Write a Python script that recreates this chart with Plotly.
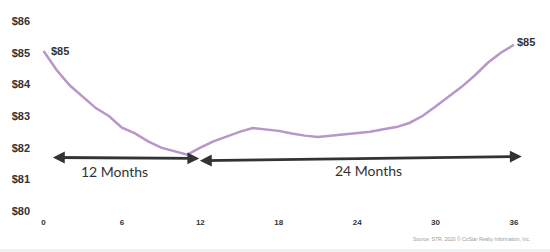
import plotly.graph_objects as go

# Data
months = list(range(0, 37))
adr = [85.05, 84.45, 83.97, 83.60, 83.25, 83.00, 82.63, 82.45, 82.20, 82.00,
       81.88, 81.78, 82.00, 82.20, 82.35, 82.50, 82.62, 82.58, 82.53, 82.45,
       82.38, 82.34, 82.38, 82.42, 82.45, 82.50, 82.58, 82.65, 82.78, 83.00,
       83.30, 83.60, 83.92, 84.28, 84.68, 85.00, 85.25]
x_ticks = [0, 6, 12, 18, 24, 30, 36]
y_ticks = [80, 81, 82, 83, 84, 85, 86]
y_tick_labels = ["$80", "$81", "$82", "$83", "$84", "$85", "$86"]
start_label = "$85"
end_label = "$85"
periods = ["12 Months", "24 Months"]
period_start = [0.6, 11.85]
period_end = [11.92, 36.6]
period_y_start = [81.69, 81.59]
period_y_end = [81.66, 81.72]
period_text_x = [5.4, 24.9]
period_text_y = [81.25, 81.28]
source = "Source: STR. 2020 © CoStar Realty Information, Inc."

W, H = 550, 252
L, T, B = 33, 21, 41
R = 23

fig = go.Figure()
fig.add_trace(go.Scatter(
    x=months, y=adr, mode="lines",
    line=dict(color="#B896CA", width=2.5, shape="linear"),
    hoverinfo="skip", showlegend=False,
))

ann = []
ann.append(dict(x=months[0], y=adr[0], text=start_label, showarrow=False,
                xanchor="left", yanchor="middle", xshift=5, yshift=0,
                font=dict(family="Arial, Liberation Sans", size=11, color="#333333", weight="bold")))
ann.append(dict(x=months[-1], y=adr[-1], text=end_label, showarrow=False,
                xanchor="left", yanchor="middle", xshift=1, yshift=3,
                font=dict(family="Arial, Liberation Sans", size=11, color="#333333", weight="bold")))
for i in range(len(periods)):
    ann.append(dict(x=period_end[i], y=period_y_end[i], ax=period_start[i], ay=period_y_start[i],
                    xref="x", yref="y", axref="x", ayref="y", text="",
                    showarrow=True, arrowhead=2, arrowside="end+start", arrowsize=0.85,
                    arrowwidth=2.8, arrowcolor="#333333", standoff=0, startstandoff=0))
    ann.append(dict(x=period_text_x[i], y=period_text_y[i], text=periods[i], showarrow=False,
                    xanchor="center", yanchor="middle",
                    font=dict(family="Lato", size=14, color="#333333")))
ann.append(dict(x=1.01, y=-0.147, xref="paper", yref="paper", text=source, showarrow=False,
                xanchor="right", yanchor="middle",
                font=dict(family="Arial, Liberation Sans", size=5, color="#9a9a9a")))

fig.update_layout(
    width=W, height=H,
    margin=dict(l=L, r=R, t=T, b=B, pad=0),
    paper_bgcolor="white", plot_bgcolor="white",
    annotations=ann,
    shapes=[dict(type="rect", xref="paper", yref="paper",
                 x0=-0.1, x1=1.1, y0=-0.3, y1=(-(249 - (H - B)) / (H - T - B)),
                 fillcolor="#eef0f2", line=dict(width=0), layer="below")],
    xaxis=dict(range=[-0.5, 37], tickvals=x_ticks, ticktext=[str(v) for v in x_ticks],
               showgrid=False, zeroline=False, showline=False, ticks="",
               tickfont=dict(family="Arial, Liberation Sans", size=8, color="#333333", weight="bold"),
               ticklabelstandoff=5),
    yaxis=dict(range=[80, 86], tickvals=y_ticks, ticktext=y_tick_labels,
               showgrid=False, zeroline=False, showline=False, ticks="",
               tickfont=dict(family="Arial, Liberation Sans", size=11, color="#333333", weight="bold"),
               ticklabelstandoff=6),
)

fig.write_html("out.html")
